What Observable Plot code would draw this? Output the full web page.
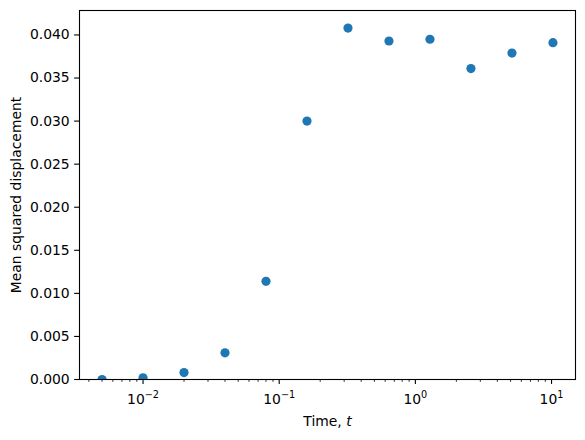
<!DOCTYPE html>
<html>
<head>
<meta charset="utf-8">
<script src="https://cdn.jsdelivr.net/npm/d3@7"></script>
<script src="https://cdn.jsdelivr.net/npm/@observablehq/plot@0.6"></script>
<style>
  html, body { margin: 0; padding: 0; background: white; }
  svg { font-family: "DejaVu Sans", sans-serif; }
</style>
</head>
<body>
<div id="chart"></div>
<script>
// Data
const times = [0.005, 0.01, 0.02, 0.04, 0.08, 0.16, 0.32, 0.64, 1.28, 2.56, 5.12, 10.24];
const msd = [0.0000, 0.0002, 0.0008, 0.0031, 0.0114, 0.0300, 0.0408, 0.0393, 0.0395, 0.0361, 0.0379, 0.0391];

// Axis ticks
const xMajorTicks = [0.01, 0.1, 1, 10];
const xMajorExponents = ["\u22122", "\u22121", "0", "1"];
const xMinorTicks = [0.004, 0.005, 0.006, 0.007, 0.008, 0.009,
  0.02, 0.03, 0.04, 0.05, 0.06, 0.07, 0.08, 0.09,
  0.2, 0.3, 0.4, 0.5, 0.6, 0.7, 0.8, 0.9,
  2, 3, 4, 5, 6, 7, 8, 9];
const yTicks = [0, 0.005, 0.010, 0.015, 0.020, 0.025, 0.030, 0.035, 0.040];

const xLabel = "Time, t";
const yLabel = "Mean squared displacement";

const data = times.map((t, i) => ({t, msd: msd[i]}));

const fontSize = 13.9;
const plot = Plot.plot({
  width: 585,
  height: 440,
  marginLeft: 79,
  marginRight: 10,
  marginTop: 10,
  marginBottom: 61,
  style: {fontFamily: "DejaVu Sans, sans-serif", fontSize: fontSize + "px", color: "black", background: "white"},
  x: {type: "log", domain: [0.003415, 14.995]},
  y: {domain: [0, 0.04284]},
  marks: [
    Plot.dot(data, {x: "t", y: "msd", r: 4.6, fill: "#1f77b4", stroke: "none", clip: true}),
    Plot.axisX(xMinorTicks, {tickSize: 2.8, strokeWidth: 0.83, tickFormat: () => "", label: null}),
    Plot.axisX(xMajorTicks, {tickSize: 4.9, tickPadding: 9.7, strokeWidth: 1.1,
      tickFormat: d => "10^" + xMajorExponents[xMajorTicks.indexOf(d)], label: null}),
    Plot.axisY(yTicks, {tickSize: 4.9, tickPadding: 4.9, strokeWidth: 1.1, tickFormat: d3.format(".3f"), label: null}),
    Plot.text([xLabel], {frameAnchor: "bottom", dy: 42, textAnchor: "middle", lineAnchor: "middle", fontSize: fontSize}),
    Plot.text([yLabel], {frameAnchor: "left", dx: -62.8, rotate: -90, textAnchor: "middle", lineAnchor: "middle", fontSize: fontSize}),
    Plot.frame({stroke: "black", strokeWidth: 1.1})
  ]
});

// Render superscripts for log tick labels and italic t
const svg = d3.select(plot);
svg.selectAll("text").each(function() {
  const el = d3.select(this);
  const txt = this.textContent;
  if (/^10\^/.test(txt)) {
    const exp = txt.slice(3);
    el.text(null);
    el.append("tspan").text("10");
    el.append("tspan").attr("dy", "-6.2").attr("font-size", "9.7px").text(exp);
  } else if (txt === xLabel) {
    el.text(null);
    el.append("tspan").text("Time, ");
    el.append("tspan").attr("font-style", "italic").text("t");
  }
});

document.getElementById("chart").appendChild(plot);
</script>
</body>
</html>
